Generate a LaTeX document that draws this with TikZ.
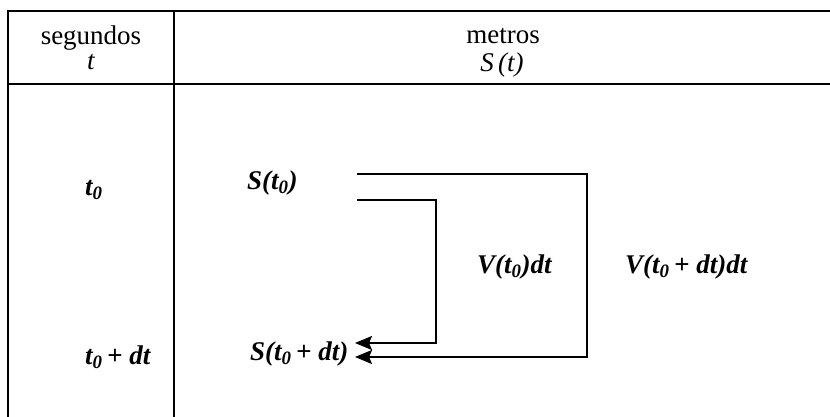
\documentclass[tikz,border=0pt]{standalone}
\usepackage{fontspec}
\setmainfont{Liberation Serif}
\usetikzlibrary{arrows.meta}
\begin{document}
\begin{tikzpicture}[x=1pt,y=-1pt,
  frame/.style={line width=2.4pt},
  conn/.style={line width=1.9pt},
  arr/.style={conn,-{Stealth[length=17pt,width=14pt,inset=3pt]}},
  hdr/.style={font=\fontsize{27}{27}\selectfont, inner sep=0pt},
  lab/.style={font=\fontsize{27}{27}\selectfont\bfseries\itshape, inner sep=0pt}]
\useasboundingbox (0,0) rectangle (830,417);
% table frame
\draw[frame] (8,417) -- (8,11) -- (830,11);
\draw[frame] (8,84) -- (830,84);
\draw[frame] (174,11) -- (174,417);
% header
\node[hdr,anchor=base] (h1) at (91,45) {segundos};
\node[hdr,anchor=base] (h1b) at (91,70) {\itshape t};
\node[hdr,anchor=base] (h2) at (503,44) {metros};
\node[hdr,anchor=base] (h2b) at (502,72) {\itshape S\,(t)};
% left column
\node[lab,anchor=west] (ta) at (85,190) {t\textsubscript{0}};
\node[lab,anchor=west] (tb) at (85,357) {t\textsubscript{0}\,+ dt};
% S nodes
\node[lab,anchor=west] (S0) at (247,183) {S(t\textsubscript{0})};
\node[lab,anchor=west] (S1) at (250,354) {S(t\textsubscript{0}\,+ dt)};
\node[lab,anchor=west] (V0) at (477,267) {V(t\textsubscript{0})dt};
\node[lab,anchor=west] (V1) at (625,267) {V(t\textsubscript{0}\,+ dt)dt};
% connectors
\coordinate (a0) at (357,200);
\coordinate (a1) at (436,200);
\coordinate (a2) at (436,343);
\coordinate (a3) at (355,343);
\coordinate (b0) at (357,174);
\coordinate (b1) at (587,174);
\coordinate (b2) at (587,357);
\coordinate (b3) at (355,357);
\draw[arr] (a0) -- (a1) -- (a2) -- (a3);
\draw[arr] (b0) -- (b1) -- (b2) -- (b3);
\end{tikzpicture}
\end{document}
